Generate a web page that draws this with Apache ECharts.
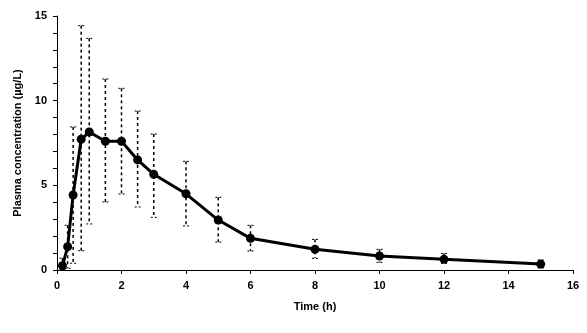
<!DOCTYPE html>
<html>
<head>
<meta charset="utf-8">
<script src="https://cdn.jsdelivr.net/npm/echarts@6/dist/echarts.min.js"></script>
<style>html,body{margin:0;padding:0;background:#fff;}#c{width:587px;height:333px;}</style>
</head>
<body>
<div id="c"></div>
<script>
const times = [0.17, 0.33, 0.5, 0.75, 1, 1.5, 2, 2.5, 3, 4, 5, 6, 8, 10, 12, 15];
const meanConc = [0.25, 1.38, 4.43, 7.72, 8.15, 7.6, 7.6, 6.5, 5.65, 4.5, 2.95, 1.87, 1.22, 0.83, 0.63, 0.35];
const upperConc = [0.7, 2.64, 8.45, 14.43, 13.68, 11.28, 10.73, 9.39, 8.03, 6.42, 4.29, 2.64, 1.81, 1.22, 0.98, 0.59];
const lowerConc = [0, 0.1, 0.4, 1.14, 2.72, 4.02, 4.49, 3.72, 3.11, 2.6, 1.65, 1.12, 0.69, 0.45, 0.39, 0.12];
const xTitle = 'Time (h)';
const yTitle = 'Plasma concentration (µg/L)';

const lineData = times.map((t, i) => [t, meanConc[i]]);
const errData = times.map((t, i) => [t, lowerConc[i], upperConc[i]]);

const font = 'Liberation Sans, Arial, sans-serif';
const chart = echarts.init(document.getElementById('c'), null, {renderer: 'canvas'});
chart.setOption({
  backgroundColor: '#fff',
  animation: false,
  grid: {left: 57, right: 14, top: 16, bottom: 63, containLabel: false},
  xAxis: {
    type: 'value', min: 0, max: 16, interval: 2,
    name: xTitle, nameLocation: 'middle', nameGap: 31,
    nameTextStyle: {fontFamily: font, fontWeight: 'bold', fontSize: 11, color: '#000'},
    axisLine: {show: true, lineStyle: {color: '#000', width: 1}},
    axisTick: {show: true, length: 4, lineStyle: {color: '#000'}},
    axisLabel: {margin: 10, fontFamily: font, fontWeight: 'bold', fontSize: 11, color: '#000'},
    splitLine: {show: false}
  },
  yAxis: {
    type: 'value', min: 0, max: 15, interval: 1,
    name: yTitle, nameLocation: 'middle', nameGap: 34,
    nameTextStyle: {fontFamily: font, fontWeight: 'bold', fontSize: 11, color: '#000'},
    axisLine: {show: true, lineStyle: {color: '#000', width: 1}},
    axisTick: {show: true, length: 4, lineStyle: {color: '#000'}},
    axisLabel: {margin: 10, fontFamily: font, fontWeight: 'bold', fontSize: 11, color: '#000',
      formatter: v => (v % 5 === 0 ? String(v) : '')},
    splitLine: {show: false}
  },
  series: [
    {
      type: 'custom',
      data: errData,
      z: 1,
      renderItem: function (params, api) {
        const x = api.value(0);
        const lo = api.coord([x, api.value(1)]);
        const hi = api.coord([x, api.value(2)]);
        const cw = 3;
        const st = {stroke: '#000', lineWidth: 1.5, lineDash: [3, 3]};
        return {
          type: 'group',
          children: [
            {type: 'line', shape: {x1: hi[0], y1: hi[1], x2: lo[0], y2: lo[1]}, style: st},
            {type: 'line', shape: {x1: hi[0] - cw, y1: hi[1], x2: hi[0] + cw, y2: hi[1]}, style: {stroke: '#000', lineWidth: 1, lineDash: [2, 2]}},
            {type: 'line', shape: {x1: lo[0] - cw, y1: lo[1], x2: lo[0] + cw, y2: lo[1]}, style: {stroke: '#000', lineWidth: 1, lineDash: [2, 2]}}
          ]
        };
      }
    },
    {
      type: 'line',
      data: lineData,
      z: 3,
      symbol: 'circle',
      symbolSize: 9,
      lineStyle: {color: '#000', width: 3},
      itemStyle: {color: '#000'}
    }
  ]
});
</script>
</body>
</html>
